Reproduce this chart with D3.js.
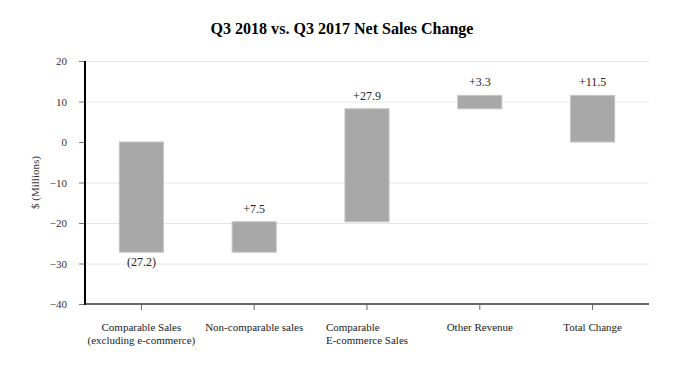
<!DOCTYPE html>
<html>
<head>
<meta charset="utf-8"/>
<title>Q3 2018 vs. Q3 2017 Net Sales Change</title>
<script src="https://d3js.org/d3.v7.min.js"></script>
<style>
    body { margin: 0; background: #fff; }
    svg { font-family: "Liberation Serif", "Times New Roman", serif; }
    .grid line { stroke: #e6e6e6; stroke-width: 1; }
    .bar { fill: #a8a8a8; stroke: #c4c4c4; stroke-width: 1; }
    .tick-label { font-size: 11px; fill: #333; }
    .cat-label { font-size: 11px; fill: #222; }
    .val-label { font-size: 12px; fill: #222; }
</style>
</head>
<body>
<div id="chart"></div>
<script>
// chart data
var categories = [
    ["Comparable Sales", "(excluding e-commerce)"],
    ["Non-comparable sales"],
    ["Comparable", "E-commerce Sales"],
    ["Other Revenue"],
    ["Total Change"]
];
var changes = [-27.2, 7.5, 27.9, 3.3, 11.5];
var isTotal = [false, false, false, false, true];
var valueLabels = ["(27.2)", "+7.5", "+27.9", "+3.3", "+11.5"];
var labelAlign = ["middle", "middle", "start", "middle", "middle"];
var yTicks = [20, 10, 0, -10, -20, -30, -40];

var width = 682, height = 370;
var plotLeft = 85, plotRight = 649, plotTop = 61, plotBottom = 304;

var svg = d3.select("#chart").append("svg")
    .attr("width", width)
    .attr("height", height);

// waterfall steps
var running = 0;
var steps = changes.map(function(c, i) {
    var s, e;
    if (isTotal[i]) { s = 0; e = running; }
    else { s = running; e = running + c; running = e; }
    return {i: i, start: s, end: e, change: c};
});

var x = d3.scaleBand()
    .domain(d3.range(categories.length))
    .range([plotLeft, plotRight])
    .paddingInner(0.6)
    .paddingOuter(0.3);

var y = d3.scaleLinear()
    .domain([-40, 20])
    .range([plotBottom, plotTop]);

// title
svg.append("text")
    .attr("x", 342)
    .attr("y", 34)
    .attr("text-anchor", "middle")
    .attr("textLength", 263)
    .attr("lengthAdjust", "spacingAndGlyphs")
    .style("font-size", "17px")
    .style("font-weight", "bold")
    .style("fill", "#000")
    .text("Q3 2018 vs. Q3 2017 Net Sales Change");

// gridlines (no line at zero)
svg.append("g").attr("class", "grid")
    .selectAll("line")
    .data(yTicks.filter(function(d){ return d !== 0 && d !== -40; }))
    .enter().append("line")
    .attr("x1", plotLeft)
    .attr("x2", plotRight)
    .attr("y1", function(d){ return y(d) + 0.5; })
    .attr("y2", function(d){ return y(d) + 0.5; });

// y axis
var yAxis = svg.append("g")
    .attr("transform", "translate(" + plotLeft + ",0)")
    .call(d3.axisLeft(y).tickValues(yTicks).tickSize(6).tickPadding(12).tickFormat(d3.format("d")));
yAxis.select(".domain").remove();
yAxis.selectAll(".tick line").attr("stroke", "#777");
yAxis.selectAll(".tick text")
    .attr("class", "tick-label")
    .style("font-family", "Liberation Serif, serif")
    .style("font-size", "11px");

svg.append("line")
    .attr("x1", plotLeft).attr("x2", plotLeft)
    .attr("y1", plotTop).attr("y2", plotBottom + 1)
    .attr("stroke", "#000")
    .attr("stroke-width", 2);

svg.append("text")
    .attr("transform", "translate(39," + ((plotTop + plotBottom) / 2) + ") rotate(-90)")
    .attr("text-anchor", "middle")
    .attr("class", "tick-label")
    .text("$ (Millions)");

// x axis
svg.append("line")
    .attr("x1", plotLeft).attr("x2", plotRight)
    .attr("y1", plotBottom).attr("y2", plotBottom)
    .attr("stroke", "#333")
    .attr("stroke-width", 1.5);

svg.append("g").selectAll("line")
    .data(d3.range(categories.length))
    .enter().append("line")
    .attr("x1", function(d){ return x(d) + x.bandwidth() / 2; })
    .attr("x2", function(d){ return x(d) + x.bandwidth() / 2; })
    .attr("y1", plotBottom)
    .attr("y2", plotBottom + 6)
    .attr("stroke", "#666");

// category labels
var cats = svg.append("g").selectAll("text")
    .data(categories)
    .enter().append("text")
    .attr("class", "cat-label")
    .attr("text-anchor", function(d, i){ return labelAlign[i]; });

cats.each(function(lines, i) {
    var t = d3.select(this);
    var cx = x(i) + x.bandwidth() / 2;
    lines.forEach(function(line, j) {
        t.append("tspan")
            .attr("x", cx)
            .attr("y", 331 + j * 13)
            .text(line);
    });
    if (labelAlign[i] === "start") {
        var maxW = 0;
        t.selectAll("tspan").each(function(){ maxW = Math.max(maxW, this.getComputedTextLength()); });
        t.selectAll("tspan").attr("x", cx - maxW / 2);
    }
});

// bars
svg.append("g").selectAll("rect")
    .data(steps)
    .enter().append("rect")
    .attr("class", "bar")
    .attr("x", function(d){ return x(d.i) + 0.5; })
    .attr("width", x.bandwidth() - 1)
    .attr("y", function(d){ return y(Math.max(d.start, d.end)); })
    .attr("height", function(d){ return Math.abs(y(d.start) - y(d.end)); });

// value labels
svg.append("g").selectAll("text")
    .data(steps)
    .enter().append("text")
    .attr("class", "val-label")
    .attr("text-anchor", "middle")
    .attr("x", function(d){ return x(d.i) + x.bandwidth() / 2; })
    .attr("y", function(d){
        if (d.change < 0) return y(Math.min(d.start, d.end)) + 14;
        return y(Math.max(d.start, d.end)) - 9;
    })
    .text(function(d){ return valueLabels[d.i]; });
</script>
</body>
</html>
